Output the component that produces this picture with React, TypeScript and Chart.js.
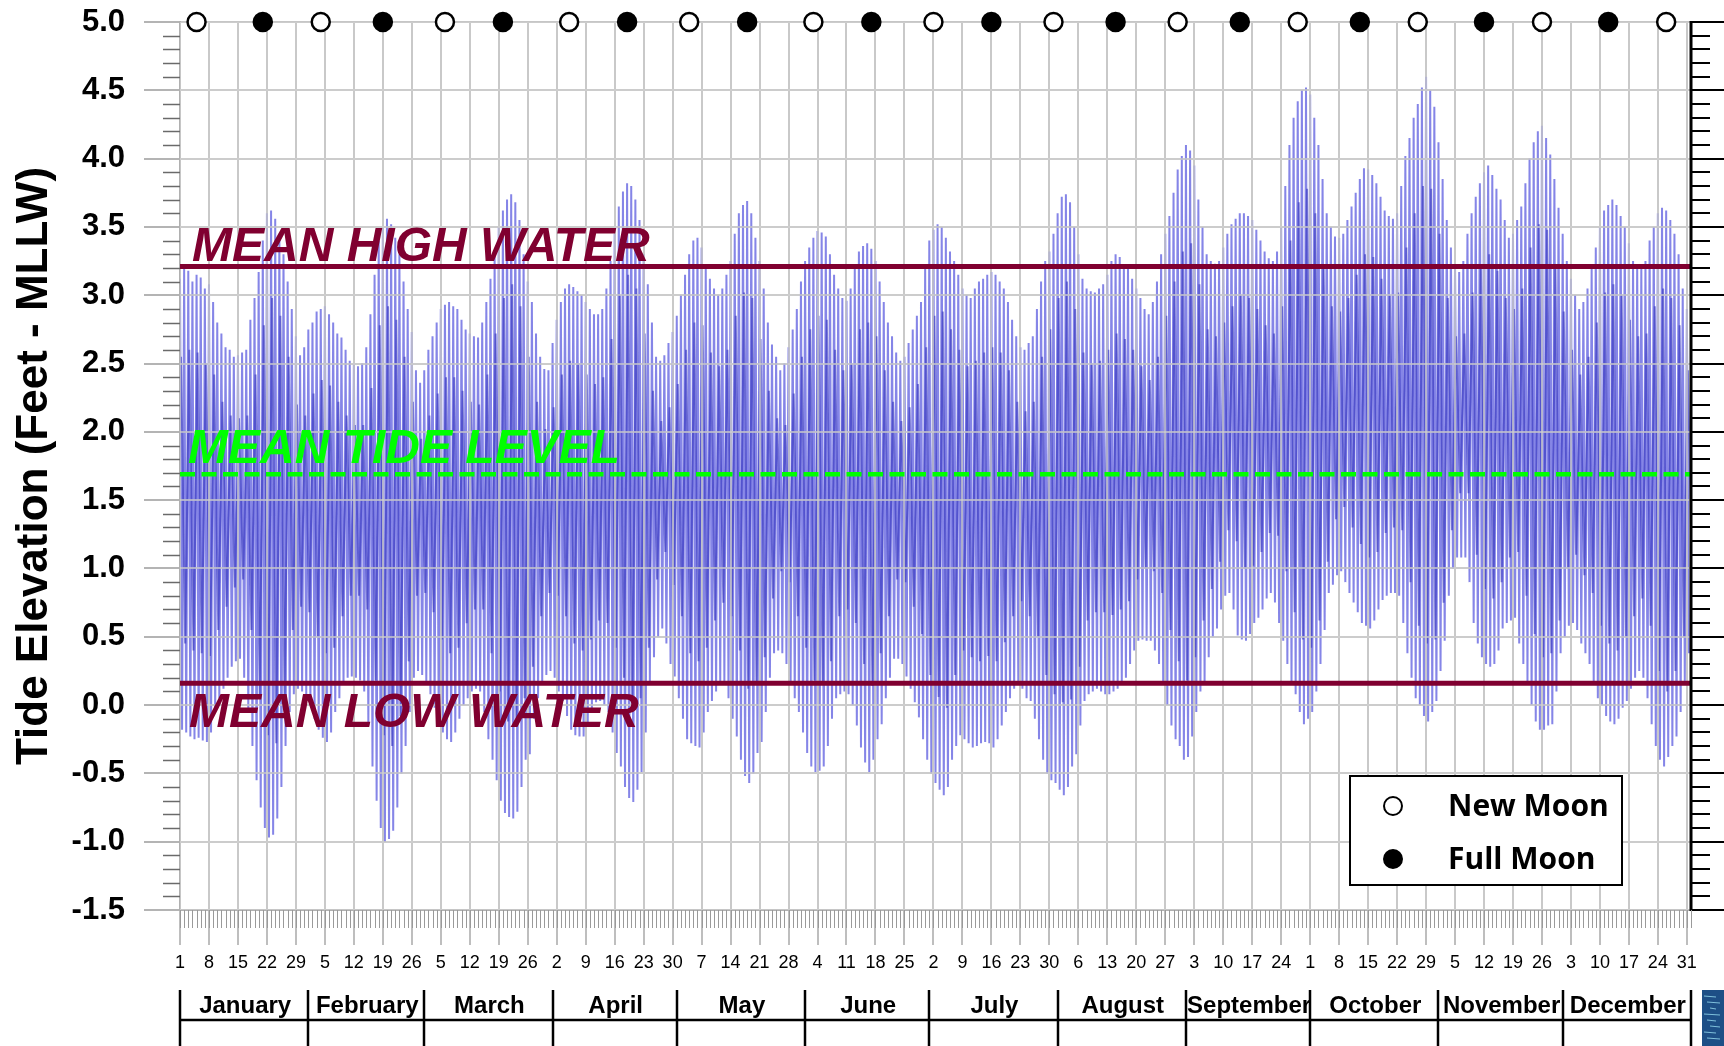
import React, { useEffect, useRef } from "react";
import { Chart, registerables } from "chart.js";

Chart.register(...registerables);

// ---- Daily higher-high water (ft, MLLW), day 1..365 ----
const HIGHER_HIGH = [
  3.12, 3.2, 3.18, 3.1, 3.15, 3.13, 3.05, 3.08, 2.95, 2.8,
  2.72, 2.62, 2.6, 2.55, 2.56, 2.58, 2.6, 2.82, 2.98, 3.17,
  3.4, 3.6, 3.62, 3.56, 3.45, 3.3, 3.1, 2.9, 2.7, 2.56,
  2.62, 2.75, 2.8, 2.88, 2.9, 2.92, 2.86, 2.8, 2.72, 2.69,
  2.6, 2.52, 2.5, 2.48, 2.5, 2.62, 2.86, 3.15, 3.4, 3.5,
  3.56, 3.52, 3.42, 3.3, 3.1, 2.9, 2.73, 2.45, 2.36, 2.45,
  2.6, 2.7, 2.8, 2.9, 2.93, 2.95, 2.92, 2.9, 2.82, 2.75,
  2.72, 2.7, 2.69, 2.8, 2.95, 3.12, 3.3, 3.5, 3.62, 3.7,
  3.74, 3.68, 3.55, 3.3, 3.1, 2.95, 2.72, 2.55, 2.46, 2.45,
  2.65, 2.82, 2.95, 3.05, 3.08, 3.06, 3.03, 3.0, 2.95, 2.9,
  2.86, 2.86, 2.9, 3.05, 3.25, 3.45, 3.65, 3.76, 3.82, 3.8,
  3.7, 3.55, 3.3, 3.08, 2.8, 2.55, 2.52, 2.56, 2.65, 2.73,
  2.85, 3.0, 3.15, 3.3, 3.4, 3.42, 3.35, 3.22, 3.12, 3.05,
  3.0, 3.05, 3.15, 3.25, 3.45, 3.6, 3.66, 3.69, 3.6, 3.42,
  3.25, 3.05, 2.8, 2.64, 2.55, 2.45, 2.5, 2.62, 2.75, 2.9,
  3.1, 3.25, 3.35, 3.42, 3.47, 3.46, 3.43, 3.3, 3.15, 3.05,
  2.98, 2.96, 3.05, 3.2, 3.32, 3.36, 3.38, 3.34, 3.25, 3.1,
  2.95, 2.8, 2.7, 2.58, 2.52, 2.55, 2.65, 2.75, 2.85, 2.95,
  3.2, 3.4, 3.48, 3.52, 3.5, 3.42, 3.32, 3.25, 3.15, 3.05,
  3.0, 2.98, 3.05, 3.1, 3.12, 3.15, 3.17, 3.15, 3.1, 3.05,
  2.95, 2.82, 2.7, 2.62, 2.6, 2.65, 2.7, 2.9, 3.1, 3.25,
  3.32, 3.45, 3.6, 3.72, 3.74, 3.68, 3.5, 3.3, 3.12, 3.05,
  3.03, 3.02, 3.05, 3.08, 3.15, 3.25, 3.3, 3.28, 3.22, 3.2,
  3.12, 3.05, 2.98, 2.9, 2.86, 2.95, 3.1, 3.3, 3.45, 3.58,
  3.75, 3.92, 4.02, 4.1, 4.06, 3.95, 3.7, 3.5, 3.3, 3.25,
  3.23, 3.25, 3.35, 3.45, 3.52, 3.56, 3.6, 3.6, 3.58, 3.55,
  3.48, 3.4, 3.32, 3.27, 3.25, 3.32, 3.5, 3.8, 4.1, 4.3,
  4.42, 4.5, 4.52, 4.47, 4.3, 4.1, 3.85, 3.6, 3.5, 3.43,
  3.42, 3.45, 3.55, 3.65, 3.75, 3.85, 3.93, 3.92, 3.88, 3.82,
  3.72, 3.62, 3.58, 3.56, 3.6, 3.8, 4.02, 4.15, 4.3, 4.4,
  4.52, 4.6, 4.5, 4.38, 4.12, 3.85, 3.55, 3.35, 3.22, 3.17,
  3.25, 3.45, 3.6, 3.72, 3.82, 3.9, 3.95, 3.88, 3.78, 3.7,
  3.55, 3.42, 3.45, 3.55, 3.65, 3.82, 4.0, 4.12, 4.2, 4.24,
  4.15, 4.03, 3.85, 3.64, 3.45, 3.25, 3.12, 3.0, 2.9, 2.95,
  3.05, 3.2, 3.35, 3.5, 3.62, 3.66, 3.7, 3.66, 3.58, 3.5,
  3.38, 3.25, 3.22, 3.2, 3.25, 3.4, 3.5, 3.6, 3.64, 3.62,
  3.55, 3.45, 3.3, 3.05, 2.9,
];

// ---- Daily lower-low water (ft, MLLW), day 1..365 ----
const LOWER_LOW = [
  -0.18, -0.2, -0.23, -0.25, -0.24, -0.26, -0.27, -0.2, -0.05, 0.05,
  0.12, 0.2, 0.28, 0.32, 0.34, 0.2, -0.05, -0.3, -0.55, -0.75,
  -0.9, -0.97, -0.95, -0.83, -0.6, -0.3, -0.05, 0.08, 0.12, 0.1,
  0.08, 0.0, -0.1, -0.18, -0.24, -0.27, -0.2, -0.05, 0.05, 0.15,
  0.2, 0.21, 0.2, 0.18, 0.1, -0.15, -0.45, -0.7, -0.9, -1.0,
  -0.98, -0.92, -0.75, -0.5, -0.3, -0.05, 0.2, 0.25, 0.22, 0.17,
  0.08, -0.02, -0.14, -0.2, -0.25, -0.27, -0.2, -0.1, 0.0, 0.05,
  0.1, 0.12, 0.1, -0.05, -0.25, -0.4, -0.55, -0.7, -0.79, -0.82,
  -0.83, -0.78, -0.6, -0.4, -0.36, -0.1, 0.05, 0.17, 0.22, 0.25,
  0.2, 0.1, 0.03, -0.08, -0.18, -0.22, -0.23, -0.23, -0.15, -0.05,
  0.02, 0.03, 0.0, -0.05, -0.2, -0.35, -0.45, -0.6, -0.68, -0.71,
  -0.62, -0.49, -0.2, 0.17, 0.35, 0.5, 0.56, 0.45, 0.3, 0.21,
  0.05, -0.1, -0.25, -0.28, -0.3, -0.31, -0.2, -0.05, 0.03, 0.1,
  0.15, 0.17, 0.05, -0.1, -0.23, -0.4, -0.52, -0.57, -0.5, -0.35,
  -0.27, -0.05, 0.2, 0.38, 0.4, 0.38, 0.3, 0.15, 0.05, -0.05,
  -0.2, -0.35, -0.45, -0.49, -0.48, -0.45, -0.3, -0.1, 0.05, 0.08,
  0.1, 0.08, 0.0, -0.15, -0.31, -0.42, -0.49, -0.4, -0.25, -0.14,
  0.05, 0.2, 0.34, 0.34, 0.3, 0.21, 0.12, 0.02, -0.09, -0.25,
  -0.4, -0.5, -0.57, -0.62, -0.66, -0.6, -0.4, -0.3, -0.22, -0.25,
  -0.28, -0.31, -0.3, -0.28, -0.27, -0.28, -0.31, -0.25, -0.15, -0.05,
  0.05, 0.12, 0.17, 0.12, 0.05, 0.03, -0.1, -0.25, -0.4, -0.5,
  -0.55, -0.57, -0.62, -0.66, -0.6, -0.45, -0.36, -0.15, 0.03, 0.08,
  0.1, 0.12, 0.1, 0.08, 0.08, 0.1, 0.12, 0.17, 0.2, 0.3,
  0.4, 0.47, 0.48, 0.47, 0.47, 0.4, 0.3, 0.17, 0.0, -0.15,
  -0.25, -0.3, -0.4, -0.38, -0.23, -0.05, 0.1, 0.17, 0.35, 0.5,
  0.56, 0.7, 0.8, 0.82, 0.7, 0.51, 0.48, 0.47, 0.52, 0.6,
  0.64, 0.7, 0.78, 0.82, 0.75, 0.6, 0.47, 0.3, 0.15, 0.08,
  -0.05, -0.14, -0.1, -0.05, 0.1, 0.3, 0.55, 0.82, 0.88, 0.95,
  0.98, 0.9, 0.82, 0.75, 0.68, 0.6, 0.58, 0.56, 0.62, 0.7,
  0.77, 0.8, 0.82, 0.82, 0.8, 0.6, 0.38, 0.2, 0.05, 0.0,
  -0.08, -0.12, -0.05, 0.03, 0.25, 0.47, 0.8, 1.0, 1.08, 1.08,
  1.08, 0.9, 0.6, 0.45, 0.35, 0.3, 0.28, 0.3, 0.4, 0.56,
  0.6, 0.62, 0.64, 0.45, 0.3, 0.17, 0.0, -0.12, -0.18, -0.18,
  -0.15, -0.14, 0.1, 0.38, 0.5, 0.58, 0.6, 0.55, 0.45, 0.38,
  0.3, 0.15, 0.05, 0.0, -0.08, -0.12, -0.14, -0.1, -0.02, 0.03,
  0.12, 0.2, 0.25, 0.2, 0.05, -0.14, -0.3, -0.4, -0.45, -0.38,
  -0.3, -0.23, -0.05, 0.17, 0.38,
];

// ---- Lower-high water, every other day (days 1,3,5,...,365) ----
const LOWER_HIGH_ODD_DAYS = [
  2.55, 2.6, 2.58, 2.5, 2.42, 2.22, 2.12, 2.1, 2.12, 2.42,
  2.78, 2.98, 2.85, 2.55, 2.2, 2.12, 2.28, 2.38, 2.34, 2.22,
  2.12, 2.05, 2.05, 2.32, 2.78, 2.92, 2.82, 2.55, 2.22, 1.95,
  2.12, 2.28, 2.4, 2.4, 2.3, 2.22, 2.2, 2.42, 2.72, 2.98,
  3.08, 2.92, 2.55, 2.22, 2.02, 2.18, 2.42, 2.52, 2.5, 2.42,
  2.35, 2.4, 2.68, 3.0, 3.15, 3.05, 2.72, 2.3, 2.08, 2.18,
  2.35, 2.6, 2.8, 2.78, 2.58, 2.48, 2.6, 2.85, 3.02, 2.98,
  2.68, 2.3, 2.1, 2.05, 2.28, 2.55, 2.75, 2.85, 2.82, 2.6,
  2.45, 2.5, 2.75, 2.8, 2.7, 2.45, 2.22, 2.08, 2.18, 2.35,
  2.62, 2.85, 2.88, 2.75, 2.6, 2.48, 2.52, 2.58, 2.62, 2.58,
  2.45, 2.22, 2.15, 2.22, 2.55, 2.75, 2.98, 3.1, 2.9, 2.58,
  2.5, 2.52, 2.6, 2.72, 2.68, 2.6, 2.48, 2.38, 2.55, 2.85,
  3.1, 3.32, 3.38, 3.08, 2.75, 2.7, 2.8, 2.92, 3.0, 2.98,
  2.9, 2.78, 2.72, 2.92, 3.4, 3.68, 3.78, 3.6, 3.22, 2.92,
  2.88, 2.98, 3.15, 3.3, 3.28, 3.12, 3.0, 3.02, 3.35, 3.6,
  3.8, 3.78, 3.45, 2.98, 2.7, 2.72, 3.02, 3.2, 3.3, 3.18,
  2.98, 2.9, 3.05, 3.35, 3.52, 3.48, 3.22, 2.88, 2.6, 2.42,
  2.55, 2.8, 3.02, 3.08, 3.0, 2.82, 2.7, 2.72, 2.92, 3.05,
  2.98, 2.78, 2.45,
];

// ---- Higher-low water, every other day (days 1,3,5,...,365) ----
const HIGHER_LOW_ODD_DAYS = [
  0.45, 0.4, 0.38, 0.36, 0.55, 0.72, 0.86, 0.92, 0.55, 0.08,
  -0.22, -0.28, 0.05, 0.55, 0.72, 0.68, 0.5, 0.38, 0.42, 0.65,
  0.8, 0.8, 0.7, 0.18, -0.22, -0.3, -0.08, 0.32, 0.8, 0.82,
  0.68, 0.48, 0.38, 0.42, 0.6, 0.7, 0.7, 0.38, 0.1, -0.12,
  -0.15, 0.05, 0.28, 0.65, 0.82, 0.8, 0.65, 0.45, 0.4, 0.48,
  0.62, 0.6, 0.42, 0.2, 0.0, 0.05, 0.42, 0.92, 1.12, 0.88,
  0.65, 0.38, 0.32, 0.42, 0.62, 0.75, 0.65, 0.4, 0.12, 0.15,
  0.35, 0.78, 0.98, 0.9, 0.65, 0.42, 0.18, 0.15, 0.32, 0.65,
  0.7, 0.6, 0.3, 0.14, 0.38, 0.65, 0.92, 0.9, 0.72, 0.52,
  0.22, 0.06, -0.02, 0.22, 0.4, 0.35, 0.32, 0.36, 0.32, 0.46,
  0.65, 0.76, 0.65, 0.5, 0.22, 0.08, 0.02, 0.04, 0.28, 0.62,
  0.68, 0.68, 0.66, 0.7, 0.76, 0.92, 1.0, 0.98, 0.82, 0.55,
  0.32, 0.18, 0.35, 0.62, 0.85, 1.05, 1.28, 1.2, 1.0, 1.02,
  1.12, 1.26, 1.24, 0.98, 0.68, 0.48, 0.42, 0.62, 1.05, 1.36,
  1.45, 1.3, 1.18, 1.08, 1.12, 1.26, 1.3, 1.28, 0.9, 0.58,
  0.45, 0.48, 0.75, 1.28, 1.55, 1.55, 1.1, 0.85, 0.78, 0.9,
  1.08, 1.12, 0.8, 0.52, 0.35, 0.38, 0.62, 1.0, 1.1, 0.95,
  0.82, 0.58, 0.45, 0.4, 0.5, 0.65, 0.78, 0.58, 0.25, 0.1,
  0.25, 0.5, 0.88,
];

// ---- Moon phases (day of year) ----
const NEW_MOON_DAYS = [5, 35, 65, 95, 124, 154, 183, 212, 242, 271, 300, 330, 360];
const FULL_MOON_DAYS = [21, 50, 79, 109, 138, 168, 197, 227, 257, 286, 316, 346];

// ---- Tidal datums (ft, MLLW) ----
const MEAN_HIGH_WATER = 3.21;
const MEAN_TIDE_LEVEL = 1.69;
const MEAN_LOW_WATER = 0.16;

// ---- Axis labels ----
const WEEK_TICK_LABELS = [
  "1", "8", "15", "22", "29",
  "5", "12", "19", "26",
  "5", "12", "19", "26",
  "2", "9", "16", "23", "30",
  "7", "14", "21", "28",
  "4", "11", "18", "25",
  "2", "9", "16", "23", "30",
  "6", "13", "20", "27",
  "3", "10", "17", "24",
  "1", "8", "15", "22", "29",
  "5", "12", "19", "26",
  "3", "10", "17", "24", "31",
];
const MONTHS = ["January", "February", "March", "April", "May", "June", "July", "August", "September", "October", "November", "December"];
const MONTH_START_DAYS = [1, 32, 60, 91, 121, 152, 182, 213, 244, 274, 305, 335, 366];

const Y_MIN = -1.5;
const Y_MAX = 5.0;
const X_MIN = 1;
const X_MAX = 366;

const FONT = '"Liberation Sans", Arial, Helvetica, sans-serif';
const MAROON = "#800030";
const GREEN = "#00ff00";

export default function App() {
  const ref = useRef<HTMLCanvasElement | null>(null);

  useEffect(() => {
    document.body.style.margin = "0";
    document.body.style.overflow = "hidden";
    const canvas = ref.current;
    if (!canvas) return;

    Chart.defaults.font.family = FONT;

    const outer = HIGHER_HIGH.flatMap((h, i) => [
      { x: i + 1, y: h },
      { x: i + 1.5, y: LOWER_LOW[i] },
    ]);
    const inner = LOWER_HIGH_ODD_DAYS.flatMap((h, j) => [
      { x: 1 + 2 * j + 0.25, y: h },
      { x: 1 + 2 * j + 1.25, y: HIGHER_LOW_ODD_DAYS[j] },
    ]);
    const hline = (v: number) => [
      { x: X_MIN, y: v },
      { x: X_MAX, y: v },
    ];

    const decor = {
      id: "decor",
      afterDatasetDraw(chart: any, args: any) {
        // grid shows through the tide strokes (drawn right after the tide layers)
        if (args.index !== 1) return;
        const ctx = chart.ctx as CanvasRenderingContext2D;
        const { left, right, top, bottom } = chart.chartArea;
        const xs = chart.scales.x;
        const ys = chart.scales.y;
        ctx.save();
        ctx.beginPath();
        ctx.rect(left, top, right - left, bottom - top);
        ctx.clip();
        ctx.strokeStyle = "rgba(205,205,205,0.75)";
        ctx.lineWidth = 2;
        ys.ticks.forEach((t: any) => {
          const py = Math.round(ys.getPixelForValue(t.value));
          ctx.beginPath();
          ctx.moveTo(left, py);
          ctx.lineTo(right, py);
          ctx.stroke();
        });
        xs.ticks.forEach((t: any) => {
          const px = Math.round(xs.getPixelForValue(t.value));
          ctx.beginPath();
          ctx.moveTo(px, top);
          ctx.lineTo(px, bottom);
          ctx.stroke();
        });
        ctx.restore();
      },
      afterDatasetsDraw(chart: any) {
        const ctx = chart.ctx as CanvasRenderingContext2D;
        const y = chart.scales.y;
        ctx.save();
        ctx.font = `italic bold 48px ${FONT}`;
        ctx.textAlign = "left";
        ctx.textBaseline = "alphabetic";
        ctx.fillStyle = MAROON;
        ctx.fillText("MEAN HIGH WATER", 192, y.getPixelForValue(MEAN_HIGH_WATER) - 6);
        ctx.fillStyle = GREEN;
        ctx.fillText("MEAN TIDE LEVEL", 188, y.getPixelForValue(MEAN_TIDE_LEVEL) - 11);
        ctx.fillStyle = MAROON;
        ctx.fillText("MEAN LOW WATER", 189, y.getPixelForValue(MEAN_LOW_WATER) + 44);
        ctx.restore();
      },
      afterDraw(chart: any) {
        const ctx = chart.ctx as CanvasRenderingContext2D;
        const { left, right, top, bottom } = chart.chartArea;
        const xs = chart.scales.x;
        const ys = chart.scales.y;
        ctx.save();

        // left minor ticks (0.1 ft)
        ctx.strokeStyle = "#6a6a6a";
        ctx.lineWidth = 1.5;
        for (let k = 0; k <= 65; k++) {
          if (k % 5 === 0) continue;
          const py = Math.round(ys.getPixelForValue(Y_MIN + k * 0.1)) + 0.5;
          ctx.beginPath();
          ctx.moveTo(left - 17, py);
          ctx.lineTo(left, py);
          ctx.stroke();
        }

        // right axis
        ctx.strokeStyle = "#000";
        ctx.lineWidth = 3;
        ctx.beginPath();
        ctx.moveTo(right, top - 1);
        ctx.lineTo(right, bottom + 1);
        ctx.stroke();
        ctx.lineWidth = 2;
        for (let k = 0; k <= 65; k++) {
          const py = Math.round(ys.getPixelForValue(Y_MIN + k * 0.1));
          ctx.beginPath();
          ctx.moveTo(right, py);
          ctx.lineTo(right + (k % 5 === 0 ? 34 : 19), py);
          ctx.stroke();
        }

        // bottom daily minor ticks
        ctx.strokeStyle = "#9a9a9a";
        ctx.lineWidth = 1;
        for (let d = X_MIN; d <= X_MAX; d++) {
          const px = Math.round(xs.getPixelForValue(d)) + 0.5;
          ctx.beginPath();
          ctx.moveTo(px, bottom);
          ctx.lineTo(px, bottom + 18);
          ctx.stroke();
        }

        // month table
        const tableTop = 990;
        const tableLine = 1020;
        ctx.strokeStyle = "#000";
        ctx.lineWidth = 2.5;
        ctx.beginPath();
        ctx.moveTo(xs.getPixelForValue(MONTH_START_DAYS[0]), tableLine);
        ctx.lineTo(xs.getPixelForValue(MONTH_START_DAYS[MONTH_START_DAYS.length - 1]), tableLine);
        ctx.stroke();
        MONTH_START_DAYS.forEach((d) => {
          const px = Math.round(xs.getPixelForValue(d));
          ctx.beginPath();
          ctx.moveTo(px, tableTop);
          ctx.lineTo(px, 1046);
          ctx.stroke();
        });
        ctx.fillStyle = "#000";
        ctx.font = `bold 24px ${FONT}`;
        ctx.textAlign = "center";
        ctx.textBaseline = "middle";
        MONTHS.forEach((m, i) => {
          const cx = (xs.getPixelForValue(MONTH_START_DAYS[i]) + xs.getPixelForValue(MONTH_START_DAYS[i + 1])) / 2;
          ctx.fillText(m, cx + 1, 1006);
        });

        // logo block
        ctx.fillStyle = "#1d4f86";
        ctx.fillRect(1702, 990, 22, 56);
        ctx.strokeStyle = "rgba(150,220,240,0.8)";
        ctx.lineWidth = 1;
        for (let i = 0; i < 8; i++) {
          ctx.beginPath();
          ctx.moveTo(1704 + (i % 3) * 3, 996 + i * 6);
          ctx.lineTo(1716 + (i % 2) * 4, 997 + i * 6);
          ctx.stroke();
        }

        // legend
        const lx = right - 341;
        const ly = bottom - 134;
        const lw = 272;
        const lh = 109;
        ctx.fillStyle = "#fff";
        ctx.fillRect(lx, ly, lw, lh);
        ctx.strokeStyle = "#000";
        ctx.lineWidth = 2;
        ctx.strokeRect(lx, ly, lw, lh);
        const items = [
          { label: chart.data.datasets[5].label, fill: "#fff", cy: ly + 30 },
          { label: chart.data.datasets[6].label, fill: "#000", cy: ly + 83 },
        ];
        items.forEach((it) => {
          ctx.beginPath();
          ctx.arc(lx + 43, it.cy, 9, 0, Math.PI * 2);
          ctx.fillStyle = it.fill;
          ctx.fill();
          ctx.lineWidth = 2;
          ctx.strokeStyle = "#000";
          ctx.stroke();
          ctx.fillStyle = "#000";
          ctx.font = `bold 30px "Open Sans", ${FONT}`;
          ctx.textAlign = "left";
          ctx.textBaseline = "middle";
          ctx.fillText(it.label, lx + 98, it.cy + 1);
        });

        ctx.restore();
      },
    };

    const chart = new Chart(canvas, {
      type: "line",
      data: {
        datasets: [
          {
            label: "Tide range",
            data: outer,
            borderColor: "rgba(75,75,220,0.68)",
            borderWidth: 2,
            pointRadius: 0,
            tension: 0,
            order: 9,
          },
          {
            label: "Tide core",
            data: inner,
            borderColor: "rgba(50,50,190,0.6)",
            borderWidth: 2,
            pointRadius: 0,
            tension: 0,
            order: 8,
          },
          {
            label: "Mean High Water",
            data: hline(MEAN_HIGH_WATER),
            borderColor: MAROON,
            borderWidth: 5,
            pointRadius: 0,
            order: 3,
          },
          {
            label: "Mean Tide Level",
            data: hline(MEAN_TIDE_LEVEL),
            borderColor: GREEN,
            borderWidth: 4.5,
            borderDash: [15, 6.5],
            pointRadius: 0,
            order: 3,
          },
          {
            label: "Mean Low Water",
            data: hline(MEAN_LOW_WATER),
            borderColor: MAROON,
            borderWidth: 5,
            pointRadius: 0,
            order: 3,
          },
          {
            label: "New Moon",
            data: NEW_MOON_DAYS.map((d) => ({ x: d, y: Y_MAX })),
            showLine: false,
            pointRadius: 9,
            pointBackgroundColor: "#fff",
            pointBorderColor: "#000",
            pointBorderWidth: 2.5,
            clip: false,
            order: 0,
          },
          {
            label: "Full Moon",
            data: FULL_MOON_DAYS.map((d) => ({ x: d, y: Y_MAX })),
            showLine: false,
            pointRadius: 9,
            pointBackgroundColor: "#000",
            pointBorderColor: "#000",
            pointBorderWidth: 2.5,
            clip: false,
            order: 0,
          },
        ] as any,
      },
      options: {
        responsive: false,
        animation: false,
        events: [],
        layout: { padding: { top: 22, right: 33, left: 0, bottom: 0 } },
        plugins: {
          legend: { display: false },
          tooltip: { enabled: false },
        },
        scales: {
          x: {
            type: "linear",
            min: X_MIN,
            max: X_MAX,
            afterBuildTicks: (s: any) => {
              s.ticks = WEEK_TICK_LABELS.map((_, i) => ({ value: 1 + 7 * i }));
            },
            afterFit: (s: any) => {
              s.height = 136;
              s.paddingLeft = 0;
              s.paddingRight = 0;
            },
            ticks: {
              autoSkip: false,
              maxRotation: 0,
              minRotation: 0,
              color: "#000",
              font: { size: 18 },
              padding: 7,
              callback: (_v: any, i: number) => WEEK_TICK_LABELS[i],
            },
            grid: {
              color: "#bdbdbd",
              lineWidth: 2,
              tickLength: 35,
              tickColor: "#a8a8a8",
              tickWidth: 1.5,
            },
            border: { display: true, color: "#b0b0b0", width: 2 },
          },
          y: {
            type: "linear",
            min: Y_MIN,
            max: Y_MAX,
            afterFit: (s: any) => {
              s.width = 180;
              s.paddingTop = 0;
              s.paddingBottom = 0;
            },
            ticks: {
              stepSize: 0.5,
              color: "#000",
              font: { size: 31, weight: "bold" },
              padding: 19,
              callback: (v: any) => Number(v).toFixed(1),
            },
            grid: {
              color: "#c6c6c6",
              lineWidth: 2,
              tickLength: 36,
              tickColor: "#b4b4b4",
              tickWidth: 2,
            },
            border: { display: true, color: "#b0b0b0", width: 2 },
            title: {
              display: true,
              text: "Tide Elevation (Feet - MLLW)",
              color: "#000",
              font: { size: 44, weight: "bold" },
              padding: { top: 8, bottom: 0 },
            },
          },
        },
      } as any,
      plugins: [decor],
    });

    return () => chart.destroy();
  }, []);

  return (
    <div style={{ width: 1724, height: 1046, position: "relative", overflow: "hidden" }}>
      <canvas ref={ref} width={1724} height={1046} style={{ display: "block" }} />
    </div>
  );
}
